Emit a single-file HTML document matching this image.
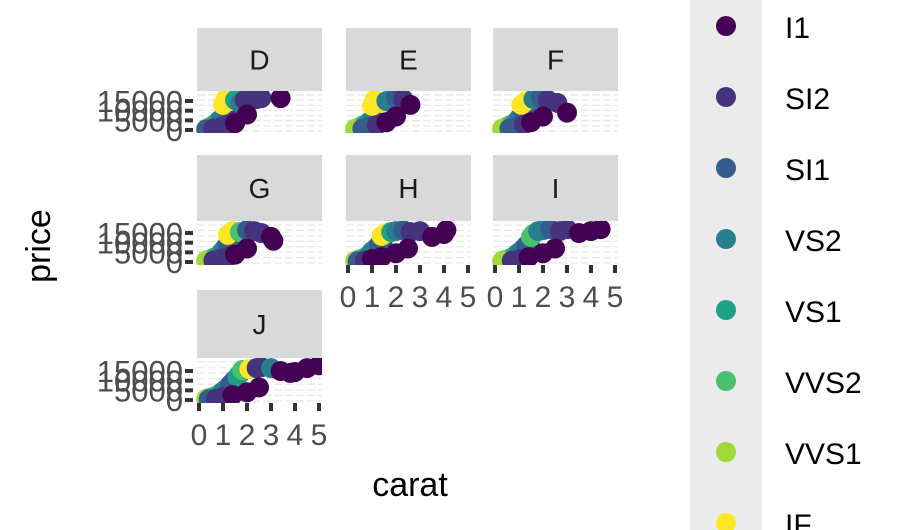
<!DOCTYPE html>
<html><head><meta charset="utf-8"><style>
body{margin:0;background:#fff;}
svg{display:block;font-family:"Liberation Sans",sans-serif;}
</style></head><body>
<svg id="c" width="924" height="530">
<rect x="690" y="0" width="72" height="530" fill="#ebebeb"/>
<text x="50" y="246" font-size="34" fill="#000" transform="rotate(-90 50 246)" text-anchor="middle">price</text>
<text x="410" y="496" font-size="34" fill="#000" text-anchor="middle">carat</text>
<g id="panels"></g><g id="legend"></g>
</svg>
<script>
const facets = ["D","E","F","G","H","I","J"];
const clarities = ["I1","SI2","SI1","VS2","VS1","VVS2","VVS1","IF"];
const colors = ["#440154","#46337E","#365C8D","#277F8E","#1FA187","#4AC16D","#9FDA3A","#FDE725"];
const xTicks = [0,1,2,3,4,5];
const yTicks = [0,5000,10000,15000];
// points per facet: [carat, price, clarityIndex]
const ptsD = [[0.3,800,6],[0.4,1200,7],[0.5,1800,5],[0.6,2500,5],[0.7,3000,4],[0.8,4500,4],[0.9,5500,3],[1,6000,3],[1.1,8000,3],[1.2,9000,2],[1.3,11000,2],[1.5,12000,1],[1.0,13000,7],[1.1,16000,7],[1.3,15000,7],[1.5,15500,4],[1.7,14000,3],[1.9,15500,1],[2.1,16500,1],[2.4,16000,1],[2.6,16500,1],[3.4,16500,0],[0.3,300,2],[0.6,700,1],[0.9,1500,1],[1.2,2500,1],[1.5,3500,0],[2,8000,0]];
const ptsE = [[0.3,700,6],[0.4,1000,6],[0.5,1500,5],[0.6,2200,5],[0.7,2500,4],[0.85,4000,4],[1,5500,3],[1.1,7500,3],[1.2,8500,2],[1.3,10500,2],[1.0,12500,7],[1.1,15500,7],[1.4,14000,7],[1.6,15000,3],[1.8,16000,3],[2,16500,2],[2.3,16000,1],[2.6,13000,0],[0.3,300,6],[0.6,800,2],[0.9,1600,2],[1.2,2500,1],[1.6,4000,0],[2,7000,0]];
const ptsF = [[0.3,700,6],[0.4,1100,6],[0.5,1600,5],[0.6,2300,5],[0.8,3000,4],[0.9,4500,4],[1,6000,3],[1.1,7500,3],[1.2,9000,2],[1.3,11000,2],[1.1,13000,7],[1.3,15000,7],[1.6,16000,3],[1.9,16500,2],[2.2,15500,1],[2.6,14000,1],[3,9000,0],[0.3,300,6],[0.6,800,2],[0.9,1800,2],[1.2,2800,1],[1.5,4000,0],[2,7000,0]];
const ptsG = [[0.3,700,6],[0.4,1100,6],[0.5,1500,5],[0.6,2200,5],[0.8,3000,4],[0.9,4500,4],[1,6000,3],[1.1,7500,3],[1.2,9000,2],[1.3,11000,2],[1.2,14000,7],[1.4,16000,7],[1.7,15500,5],[2,16500,2],[2.3,16000,1],[2.6,15000,1],[3,13000,0],[3.1,11000,0],[0.3,300,6],[0.6,800,1],[0.9,1600,1],[1.2,2600,1],[1.5,3800,0],[2,7000,0]];
const ptsH = [[0.3,600,6],[0.4,900,6],[0.5,1400,5],[0.65,2000,5],[0.8,2800,4],[0.9,4000,4],[1,5500,3],[1.15,7000,3],[1.3,9000,2],[1.45,11000,2],[1.4,13500,7],[1.6,15000,7],[1.8,15500,4],[2,16000,3],[2.3,16500,2],[2.6,15500,1],[3,16000,1],[3.5,13000,0],[4,14500,0],[4.1,16500,0],[0.4,300,2],[0.7,700,1],[1,1500,0],[1.4,2500,0],[2,4500,0],[2.5,7000,0]];
const ptsI = [[0.3,600,6],[0.4,900,6],[0.5,1300,5],[0.65,2000,5],[0.8,2800,4],[0.9,4000,4],[1,5000,3],[1.15,6500,3],[1.3,8500,2],[1.45,10500,2],[1.5,13000,5],[1.6,14500,5],[1.8,16000,3],[2,16500,3],[2.3,17000,2],[2.7,16000,1],[3,17000,1],[3.5,15000,0],[4,16000,0],[4.4,17000,0],[0.4,300,6],[0.7,700,1],[1,1500,1],[1.4,2500,0],[2,4500,0],[2.5,7000,0]];
const ptsJ = [[0.3,600,6],[0.4,900,6],[0.5,1300,5],[0.65,1900,5],[0.8,2500,4],[0.9,3500,4],[1,4500,3],[1.15,6000,3],[1.3,8000,2],[1.45,10000,2],[1.6,12000,4],[1.7,13500,4],[1.8,15500,5],[2.1,16000,7],[2.4,16500,1],[2.6,17000,1],[3,16500,3],[3.4,15000,0],[3.8,14000,0],[4,14500,0],[4.5,16500,0],[5,18000,0],[0.4,300,2],[0.7,600,1],[1,1500,1],[1.4,2500,0],[2,4000,0],[2.5,6500,0]];
const facetPts = [ptsD,ptsE,ptsF,ptsG,ptsH,ptsI,ptsJ];

const NS="http://www.w3.org/2000/svg";
const panelsG=document.getElementById('panels');
const colX=[197,346,493], rowTop=[28,155,290];
const stripH=[63,66,68], plotH=[42,44,45];
function mk(tag,attrs,parent){const e=document.createElementNS(NS,tag);for(const k in attrs)e.setAttribute(k,attrs[k]);parent.appendChild(e);return e;}
facets.forEach((f,i)=>{
  const col=i%3,row=Math.floor(i/3);
  const x0=colX[col], w=125, sTop=rowTop[row], pTop=sTop+stripH[row], pBot=pTop+plotH[row];
  const g=mk('g',{},panelsG);
  
  
  const xs=v=>x0+2+v*24, ys=v=>pBot-3-v/15000*29;
  const strip=mk('rect',{x:x0,y:sTop,width:w,height:stripH[row],fill:'#d9d9d9'},g);
  
  
  const st=mk('text',{x:x0+w/2,y:sTop+stripH[row]/2+10,'font-size':28,'text-anchor':'middle',fill:'#1a1a1a'},g);
  st.textContent=f;
  
  
  for(let k=0;k<8;k++){const yy=pTop+4+k*(plotH[row]-6)/7;mk('line',{x1:x0,x2:x0+w,y1:yy,y2:yy,stroke:'#ebebeb','stroke-width':1.5,'stroke-dasharray':'8 3'},g);}
  facetPts[i].forEach(p=>{
    const c=mk('circle',{cx:xs(p[0]),cy:ys(p[1]),r:10,fill:colors[p[2]]},g);
    
    
  });
  mk('rect',{x:x0-4,y:pBot,width:w+14,height:22,fill:'#fff'},g);
  mk('rect',{x:x0+w,y:pTop-12,width:14,height:plotH[row]+12,fill:'#fff'},g);
  g.appendChild(strip);g.appendChild(st);
  if(col===0){
    yTicks.forEach(t=>{
      const y=ys(t);
      mk('line',{x1:x0-12,x2:x0-4,y1:y,y2:y,stroke:'#333','stroke-width':4},g);
      const tl=mk('text',{x:x0-14,y:y+11,'font-size':31,'text-anchor':'end',fill:'#4d4d4d'},g);
      tl.textContent=t;
      
      
    });
  }
  if(i>=4){
    xTicks.forEach(t=>{
      const x=xs(t);
      mk('line',{x1:x,x2:x,y1:pBot,y2:pBot+8,stroke:'#333','stroke-width':4},g);
      const tl=mk('text',{x:x,y:pBot+42,'font-size':30,'text-anchor':'middle',fill:'#4d4d4d'},g);
      tl.textContent=t;
      
      
    });
  }
});
const lg=document.getElementById('legend');
clarities.forEach((c,k)=>{
  const y=26+k*71;
  const e=mk('circle',{cx:726,cy:y,r:10,fill:colors[k]},lg);
  
  
  const t=mk('text',{x:785,y:y+12,'font-size':30,fill:'#000'},lg);
  t.textContent=c;
  
  
});
</script>
</body></html>
